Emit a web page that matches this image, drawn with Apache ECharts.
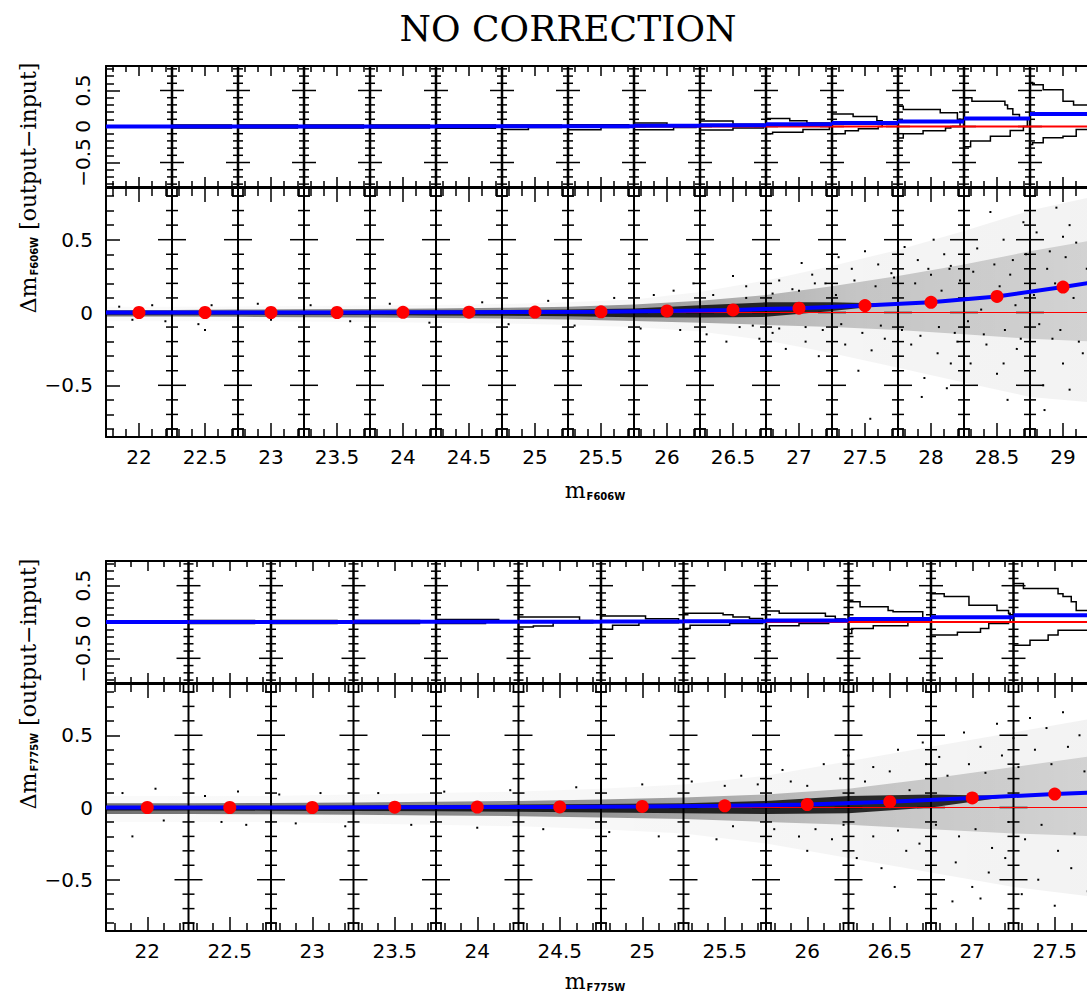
<!DOCTYPE html>
<html><head><meta charset="utf-8">
<script src="https://cdn.jsdelivr.net/npm/echarts@6/dist/echarts.min.js"></script>
<style>html,body{margin:0;padding:0;background:#fff}#c{width:1087px;height:994px}</style>
</head><body><div id="c"></div>
<script>
// ================= DATA =================
const titleText = 'NO CORRECTION';
// x tick labels
const xLabelsTop = [22,22.5,23,23.5,24,24.5,25,25.5,26,26.5,27,27.5,28,28.5,29];
const xLabelsBot = [22,22.5,23,23.5,24,24.5,25,25.5,26,26.5,27,27.5];
const yLabelsMain = [-0.5,0,0.5];
const yTickVals = [-0.8,-0.7,-0.6,-0.5,-0.4,-0.3,-0.2,-0.1,0,0.1,0.2,0.3,0.4,0.5,0.6,0.7,0.8];
const yMajor = [-0.5,0,0.5];
// bin boundaries (vertical lines)
const boundsTop = [22.25,22.75,23.25,23.75,24.25,24.75,25.25,25.75,26.25,26.75,27.25,27.75,28.25,28.75];
const boundsBot = [22.25,22.75,23.25,23.75,24.25,24.75,25.25,25.75,26.25,26.75,27.25];
// medians per bin (red dots)
const binTop = [22,22.5,23,23.5,24,24.5,25,25.5,26,26.5,27,27.5,28,28.5,29];
const medTop = [0.0,0.0,0.0,0.0,0.001,0.002,0.003,0.005,0.011,0.018,0.03,0.048,0.07,0.11,0.175];
const binBot = [22,22.5,23,23.5,24,24.5,25,25.5,26,26.5,27,27.5];
const medBot = [0.0,0.0,0.0,0.002,0.003,0.004,0.007,0.012,0.02,0.04,0.066,0.093];
// blue fit line in main panels
const fitXTop = [21.75,22,22.5,23,23.5,24,24.5,25,25.5,26,26.5,27,27.5,28,28.5,29,29.25];
const fitYTop = [0.0,0.0,0.0,0.0,0.0,0.001,0.002,0.003,0.005,0.011,0.018,0.03,0.048,0.07,0.11,0.175,0.21];
const fitXBot = [21.75,22,22.5,23,23.5,24,24.5,25,25.5,26,26.5,27,27.5,27.75];
const fitYBot = [0.0,0.0,0.0,0.0,0.002,0.003,0.004,0.007,0.012,0.02,0.04,0.066,0.093,0.105];
// histograms: per boundary, bins [dmLow, dmHigh, width in mag]
const histTop = [
 [[-0.02,0.02,0.45]],
 [[-0.02,0.02,0.45]],
 [[-0.02,0.02,0.45]],
 [[-0.02,0.02,0.45]],
 [[-0.025,0.02,0.45]],
 [[-0.04,-0.015,0.2],[-0.015,0.02,0.45]],
 [[-0.045,-0.015,0.25],[-0.015,0.025,0.46]],
 [[-0.045,-0.015,0.3],[-0.015,0.025,0.47],[0.025,0.05,0.25]],
 [[-0.05,-0.02,0.25],[-0.02,0.03,0.48],[0.03,0.075,0.25]],
 [[-0.1,-0.08,0.05],[-0.08,-0.04,0.28],[-0.04,0.05,0.48],[0.05,0.08,0.31],[0.08,0.11,0.18]],
 [[-0.1,-0.06,0.1],[-0.06,-0.03,0.2],[-0.03,0.0,0.35],[0.0,0.08,0.38],[0.08,0.14,0.34],[0.14,0.175,0.16]],
 [[-0.16,-0.1,0.04],[-0.1,-0.06,0.19],[-0.06,-0.02,0.36],[-0.02,0.0,0.4],[0.0,0.1,0.47],[0.1,0.19,0.45],[0.19,0.236,0.32],[0.236,0.28,0.04]],
 [[-0.28,-0.2,0.05],[-0.2,-0.135,0.2],[-0.135,-0.056,0.35],[-0.056,0.0,0.45],[0.0,0.1,0.48],[0.1,0.167,0.42],[0.167,0.245,0.37],[0.245,0.3,0.33],[0.3,0.35,0.31],[0.35,0.4,0.06]],
 [[-0.25,-0.226,0.02],[-0.226,-0.157,0.1],[-0.157,-0.135,0.25],[-0.135,-0.04,0.35],[-0.04,0.07,0.5],[0.07,0.14,0.45],[0.14,0.3,0.5],[0.3,0.35,0.33],[0.35,0.42,0.25],[0.42,0.51,0.25],[0.51,0.58,0.1],[0.58,0.61,0.02]]
];
const histBot = [
 [[-0.02,0.02,0.4]],
 [[-0.02,0.02,0.4]],
 [[-0.02,0.02,0.4]],
 [[-0.02,0.0,0.3],[0.0,0.033,0.38]],
 [[-0.07,-0.055,0.09],[-0.055,-0.01,0.21],[-0.01,0.02,0.45],[0.02,0.07,0.37]],
 [[-0.1,-0.045,0.07],[-0.045,-0.01,0.23],[-0.01,0.046,0.47],[0.046,0.083,0.27]],
 [[-0.09,-0.046,0.04],[-0.046,-0.02,0.28],[-0.02,0.047,0.48],[0.047,0.07,0.4],[0.07,0.1,0.3],[0.1,0.12,0.24]],
 [[-0.1,-0.05,0.02],[-0.05,-0.022,0.2],[-0.022,0.0,0.38],[0.0,0.04,0.48],[0.04,0.08,0.42],[0.08,0.12,0.36],[0.12,0.153,0.08]],
 [[-0.16,-0.09,0.02],[-0.09,-0.05,0.15],[-0.05,0.0,0.36],[0.0,0.06,0.5],[0.06,0.14,0.45],[0.14,0.16,0.27],[0.16,0.21,0.24],[0.21,0.28,0.07]],
 [[-0.18,-0.14,0.16],[-0.14,-0.09,0.3],[-0.09,-0.02,0.35],[-0.02,0.0,0.47],[0.0,0.12,0.48],[0.12,0.16,0.47],[0.16,0.23,0.4],[0.23,0.28,0.23],[0.28,0.35,0.23],[0.35,0.39,0.08]],
 [[-0.32,-0.25,0.1],[-0.25,-0.18,0.21],[-0.18,-0.115,0.27],[-0.115,-0.05,0.45],[-0.05,0.16,0.5],[0.16,0.28,0.38],[0.28,0.35,0.35],[0.35,0.39,0.3],[0.39,0.46,0.27],[0.46,0.53,0.06]]
];
// scatter cloud envelopes (core / mid / halo)
const cloudXTop = [21.75,22.25,22.75,23.25,23.75,24.25,24.75,25.25,25.75,26.25,26.75,27.25,27.75,28.25,28.75,29.25];
const coreLoTop = [-0.015,-0.015,-0.016,-0.017,-0.018,-0.02,-0.022,-0.026,-0.032,-0.035,-0.03,0.01,0.058,0.09,0.14,0.19];
const coreHiTop = [0.008,0.008,0.009,0.01,0.011,0.013,0.016,0.02,0.028,0.05,0.07,0.07,0.06,0.09,0.14,0.19];
const midLoTop  = [-0.028,-0.028,-0.03,-0.032,-0.034,-0.037,-0.042,-0.048,-0.058,-0.07,-0.085,-0.1,-0.12,-0.15,-0.18,-0.2];
const midHiTop  = [0.018,0.018,0.02,0.022,0.024,0.027,0.032,0.04,0.055,0.08,0.12,0.18,0.25,0.33,0.42,0.5];
const haloLoTop = [-0.06,-0.06,-0.06,-0.062,-0.065,-0.07,-0.075,-0.085,-0.1,-0.13,-0.19,-0.28,-0.38,-0.48,-0.58,-0.62];
const haloHiTop = [0.04,0.04,0.042,0.045,0.048,0.052,0.058,0.07,0.09,0.14,0.22,0.32,0.43,0.56,0.7,0.8];
const cloudXBot = [21.75,22.25,22.75,23.25,23.75,24.25,24.75,25.25,25.75,26.25,26.75,27.25,27.75];
const coreLoBot = [-0.02,-0.02,-0.022,-0.024,-0.026,-0.03,-0.035,-0.04,-0.045,-0.04,0.0,0.08,0.1];
const coreHiBot = [0.01,0.01,0.012,0.014,0.017,0.02,0.025,0.03,0.045,0.08,0.09,0.08,0.1];
const midLoBot  = [-0.045,-0.045,-0.047,-0.05,-0.055,-0.06,-0.07,-0.08,-0.1,-0.12,-0.15,-0.18,-0.2];
const midHiBot  = [0.03,0.03,0.032,0.035,0.04,0.045,0.055,0.07,0.09,0.13,0.2,0.28,0.36];
const haloLoBot = [-0.1,-0.1,-0.1,-0.11,-0.12,-0.13,-0.15,-0.18,-0.25,-0.35,-0.45,-0.55,-0.62];
const haloHiBot = [0.08,0.08,0.08,0.09,0.1,0.11,0.13,0.16,0.22,0.32,0.42,0.52,0.62];
// individual sparse points
const outTop = [[21.85,0.04],[21.95,-0.05],[22.1,0.05],[22.2,-0.06],[22.45,-0.08],[22.5,-0.12],[22.55,0.05],[22.9,0.06],[23.0,-0.05],[23.3,0.05],[23.6,-0.06],[23.9,0.06],[24.2,-0.07],[24.6,0.07],[24.8,-0.08],[25.1,0.08],[25.3,-0.09],[25.6,0.1],[25.8,-0.11],[25.9,0.12],
 [26.05,0.15],[26.1,-0.12],[26.2,0.2],[26.3,-0.15],[26.35,0.12],[26.45,-0.2],[26.5,0.25],[26.55,-0.1],[26.6,0.18],[26.7,-0.18],[26.75,0.3],[26.8,-0.14],[26.85,0.22],[26.9,-0.25],[26.95,0.16],
 [27.02,0.34],[27.05,-0.2],[27.1,0.26],[27.15,-0.3],[27.2,0.2],[27.25,-0.16],[27.3,0.38],[27.35,-0.22],[27.4,0.3],[27.45,-0.4],[27.5,0.42],[27.54,-0.73],[27.55,-0.26],[27.6,0.33],[27.65,-0.18],[27.7,0.27],[27.75,-0.34],[27.8,0.45],[27.85,-0.22],[27.9,0.36],[27.93,-0.58],[27.95,-0.45],[27.98,0.3],
 [28.02,0.5],[28.05,-0.28],[28.1,0.4],[28.12,-0.52],[28.15,0.32],[28.2,-0.2],[28.25,0.58],[28.3,-0.35],[28.35,0.44],[28.4,-0.15],[28.45,0.69],[28.5,-0.42],[28.55,0.5],[28.58,-0.6],[28.62,0.36],[28.65,-0.25],[28.7,0.62],[28.75,-0.3],[28.8,0.55],[28.85,-0.5],[28.86,-0.67],[28.9,0.42],[28.92,-0.18],[28.95,0.72],[29.0,-0.35],[29.05,0.6],[29.05,-0.53],[29.1,0.48],[29.15,-0.28],[29.2,0.8],[29.22,-0.45],
 [26.6,0.1],[26.65,-0.09],[26.8,0.13],[26.85,-0.11],[27.0,0.15],[27.05,-0.1],[27.12,0.2],[27.18,-0.12],[27.28,0.12],[27.32,-0.08],[27.42,0.22],[27.48,-0.14],[27.58,0.18],[27.62,-0.09],[27.72,0.24],[27.78,-0.12],[27.88,0.2],[27.92,-0.16],[28.0,0.26],[28.06,-0.1],[28.08,0.15],[28.14,0.3],[28.18,-0.14],[28.22,0.22],[28.28,-0.06],[28.32,0.28],[28.38,0.02],[28.42,-0.22],[28.48,0.33],[28.52,0.18],[28.56,-0.12],[28.6,0.26],[28.64,0.05],[28.68,-0.18],[28.72,0.4],[28.78,0.12],[28.82,-0.08],[28.88,0.3],[28.94,0.2],[28.98,-0.12],[29.02,0.38],[29.08,0.1],[29.12,-0.2],[29.18,0.3],[29.24,0.05],[28.15,-0.35],[28.55,-0.35],[29.0,0.52]];
const outBot = [[21.85,0.1],[21.91,-0.2],[22.05,0.13],[22.1,-0.09],[22.35,0.08],[22.45,-0.1],[22.55,0.11],[22.6,-0.12],[22.8,0.09],[22.9,-0.11],[23.05,0.1],[23.2,-0.13],[23.4,0.1],[23.6,-0.12],[23.8,0.11],[24.0,-0.14],[24.2,0.12],[24.4,-0.15],[24.6,0.14],[24.8,-0.17],[25.0,0.16],[25.1,-0.2],[25.3,0.18],[25.45,-0.22],[25.6,0.22],[25.75,-0.26],[25.85,0.26],
 [26.0,-0.3],[26.1,0.3],[26.15,-0.22],[26.25,0.36],[26.3,-0.35],[26.4,0.28],[26.45,-0.42],[26.53,-0.55],[26.55,0.4],[26.6,-0.3],[26.7,0.45],[26.75,-0.5],[26.8,0.35],[26.88,-0.65],[26.9,-0.38],[26.95,0.52],[27.0,-0.55],[27.05,0.42],[27.05,-0.63],[27.1,-0.45],[27.15,0.58],[27.2,-0.35],[27.25,0.48],[27.3,-0.6],[27.35,0.62],[27.4,-0.5],[27.45,0.55],[27.5,-0.68],[27.55,0.66],[27.6,-0.42],[27.65,0.5],[27.7,-0.58],[27.72,0.7],
 [26.0,0.15],[26.05,-0.15],[26.2,0.2],[26.22,-0.12],[26.35,0.18],[26.4,-0.2],[26.5,0.25],[26.55,-0.16],[26.62,0.12],[26.68,-0.25],[26.72,0.3],[26.78,-0.12],[26.85,0.22],[26.92,-0.2],[26.98,0.3],[27.02,-0.15],[27.08,0.24],[27.12,-0.28],[27.18,0.36],[27.22,-0.1],[27.28,0.28],[27.32,-0.22],[27.38,0.4],[27.42,-0.12],[27.48,0.3],[27.52,-0.3],[27.58,0.42],[27.62,-0.18],[27.68,0.25],[27.74,-0.35],[25.5,0.15],[25.55,-0.13],[25.7,0.16],[25.8,-0.15],[25.9,0.18],[25.95,-0.2]];

// ================= LAYOUT / STYLE =================
const FONT = 'DejaVu Sans';
const SERIF = 'DejaVu Serif';
const HIST_Y = 0.84, MAIN_Y = 0.855;
const panels = [
 {xMin:21.75, xMax:29.25, labels:xLabelsTop, bounds:boundsTop, hist:histTop, bins:binTop, med:medTop, fitX:fitXTop, fitY:fitYTop,
  cx:cloudXTop, core:[coreLoTop,coreHiTop], mid:[midLoTop,midHiTop], halo:[haloLoTop,haloHiTop], out:outTop,
  histTop:66, histH:121, mainTop:188, mainH:249},
 {xMin:21.75, xMax:27.75, labels:xLabelsBot, bounds:boundsBot, hist:histBot, bins:binBot, med:medBot, fitX:fitXBot, fitY:fitYBot,
  cx:cloudXBot, core:[coreLoBot,coreHiBot], mid:[midLoBot,midHiBot], halo:[haloLoBot,haloHiBot], out:outBot,
  histTop:561, histH:122, mainTop:684, mainH:247}
];
function fmt(v){ return v<0 ? '\u2212'+Math.abs(v) : String(v); }
function minorTicks(min,max,majors){
  const out=[]; for(let k=Math.ceil(min*10+1e-6); k<=Math.floor(max*10-1e-6); k++){ const v=k/10; if(!majors.some(m=>Math.abs(m-v)<1e-6)) out.push(v);} return out;
}
const yMinor = yTickVals.filter(v=>yMajor.indexOf(v)<0);

const grids=[], xAxes=[], yAxes=[], series=[];
function xAx(g,p,pos,ticks,len,labels,lineShow){
  xAxes.push({type:'value', gridIndex:g, min:p.xMin, max:p.xMax, position:pos,
    axisLine:{show:lineShow, onZero:false, lineStyle:{color:'#000', width:2}},
    axisTick:{show:true, inside:true, length:len, customValues:ticks, lineStyle:{color:'#000', width:1.5}},
    axisLabel:{show:!!labels, customValues:labels||ticks, margin:10, color:'#000', fontFamily:FONT, fontSize:20, formatter:fmt},
    splitLine:{show:false}});
  return xAxes.length-1;
}
function yAx(g,min,max,ticks,len,labels,rot,lineShow){
  yAxes.push({type:'value', gridIndex:g, min:min, max:max, position:'left',
    axisLine:{show:lineShow, onZero:false, lineStyle:{color:'#000', width:2}},
    axisTick:{show:true, inside:true, length:len, customValues:ticks, lineStyle:{color:'#000', width:1.5}},
    axisLabel:{show:!!labels, customValues:labels||ticks, margin:13, rotate:rot||0, color:'#000', fontFamily:FONT, fontSize:20, formatter:fmt},
    splitLine:{show:false}});
  return yAxes.length-1;
}
function boundaryItem(yMin,yMax,longLen,shortLen,lw){
  return function(params,api){
    const x=api.value(0);
    const p0=api.coord([x,yMax]), p1=api.coord([x,yMin]);
    const ch=[{type:'line', shape:{x1:p0[0],y1:p0[1],x2:p1[0],y2:p1[1]}, style:{stroke:'#000', lineWidth:lw}}];
    yTickVals.forEach(t=>{
      const py=api.coord([x,t])[1];
      const L=yMajor.indexOf(t)>=0?longLen:shortLen;
      ch.push({type:'line', shape:{x1:p0[0]-L,y1:py,x2:p0[0]+L,y2:py}, style:{stroke:'#000', lineWidth:1.5}});
    });
    return {type:'group', children:ch};
  };
}
function histItem(hists){
  return function(params,api){
    const b=api.value(0), bins=hists[api.value(1)];
    const pts=[api.coord([b,bins[0][0]])];
    bins.forEach(function(r){ pts.push(api.coord([b+r[2],r[0]])); pts.push(api.coord([b+r[2],r[1]])); });
    pts.push(api.coord([b,bins[bins.length-1][1]]));
    return {type:'polyline', shape:{points:pts}, style:{stroke:'#000', lineWidth:1.5, fill:'none'}};
  };
}
function bandItem(xs,lo,hi,fill){
  return function(params,api){
    if(params.dataIndex!==0) return null;
    const pts=[];
    xs.forEach((x,i)=>pts.push(api.coord([x,hi[i]])));
    for(let i=xs.length-1;i>=0;i--) pts.push(api.coord([xs[i],lo[i]]));
    return {type:'polygon', shape:{points:pts}, style:{fill:fill, stroke:'none'}};
  };
}
function stepItem(half){
  return function(params,api){
    const c=api.value(0), m=api.value(1);
    const a=api.coord([c-half,m]), b=api.coord([c+half,m]);
    return {type:'line', shape:{x1:a[0],y1:a[1],x2:b[0],y2:b[1]}, style:{stroke:'#0000ff', lineWidth:4}};
  };
}

panels.forEach(function(p,pi){
  const gH=grids.length; grids.push({left:106, top:p.histTop, width:990, height:p.histH, outerBoundsMode:'none', containLabel:false});
  const gM=grids.length; grids.push({left:106, top:p.mainTop, width:990, height:p.mainH, outerBoundsMode:'none', containLabel:false});
  const xMinorT = minorTicks(p.xMin,p.xMax,p.labels);
  // hist panel axes
  const hx = xAx(gH,p,'bottom',p.labels,10,null,true);
  xAx(gH,p,'bottom',xMinorT,6,null,false);
  xAx(gH,p,'top',p.labels,10,null,true);
  xAx(gH,p,'top',xMinorT,6,null,false);
  const hy = yAx(gH,-HIST_Y,HIST_Y,yMajor,14,yLabelsMain,90,true);
  yAx(gH,-HIST_Y,HIST_Y,yMinor,8,null,0,false);
  // main panel axes
  const mx = xAx(gM,p,'bottom',p.labels,14,p.labels,true);
  xAx(gM,p,'bottom',xMinorT,8,null,false);
  xAx(gM,p,'top',p.labels,14,null,true);
  xAx(gM,p,'top',xMinorT,8,null,false);
  const my = yAx(gM,-MAIN_Y,MAIN_Y,yMajor,14,yLabelsMain,0,true);
  yAx(gM,-MAIN_Y,MAIN_Y,yMinor,8,null,0,false);

  const H={xAxisIndex:hx, yAxisIndex:hy}, M={xAxisIndex:mx, yAxisIndex:my};
  const bandData = p.cx.map((x,i)=>[x,0]);
  const midFill = new echarts.graphic.LinearGradient(0,0,1,0,[{offset:0,color:'rgba(0,0,0,0.55)'},{offset:0.5,color:'rgba(0,0,0,0.4)'},{offset:0.75,color:'rgba(0,0,0,0.2)'},{offset:1,color:'rgba(0,0,0,0.13)'}]);
  const haloFill = new echarts.graphic.LinearGradient(0,0,1,0,[{offset:0,color:'rgba(0,0,0,0.02)'},{offset:0.6,color:'rgba(0,0,0,0.035)'},{offset:1,color:'rgba(0,0,0,0.05)'}]);
  series.push(Object.assign({type:'custom', z:1, renderItem:bandItem(p.cx,p.halo[0],p.halo[1],haloFill), data:bandData, silent:true}, M));
  series.push(Object.assign({type:'custom', z:1, renderItem:bandItem(p.cx,p.mid[0],p.mid[1],midFill), data:bandData, silent:true}, M));
  series.push(Object.assign({type:'custom', z:1, renderItem:bandItem(p.cx,p.core[0],p.core[1],'rgba(0,0,0,0.8)'), data:bandData, silent:true}, M));
  series.push(Object.assign({type:'scatter', z:2, symbol:'rect', symbolSize:2, itemStyle:{color:'#000', opacity:1}, data:p.out, silent:true}, M));
  // boundary lines
  series.push(Object.assign({type:'custom', z:3, renderItem:boundaryItem(-MAIN_Y,MAIN_Y,14,6,2), data:p.bounds.map(b=>[b]), silent:true}, M));
  series.push(Object.assign({type:'custom', z:3, renderItem:boundaryItem(-HIST_Y,HIST_Y,12,5,2.5), data:p.bounds.map(b=>[b]), silent:true}, H));
  // squares at the boundary ends
  series.push(Object.assign({type:'scatter', z:3, symbol:'rect', symbolSize:[10,8], symbolOffset:[0,4], itemStyle:{color:'rgba(0,0,0,0)', borderColor:'#000', borderWidth:1.5, opacity:1}, data:p.bounds.map(b=>[b,MAIN_Y]), silent:true}, M));
  series.push(Object.assign({type:'scatter', z:3, symbol:'rect', symbolSize:[10,8], symbolOffset:[0,-4], itemStyle:{color:'rgba(0,0,0,0)', borderColor:'#000', borderWidth:1.5, opacity:1}, data:p.bounds.map(b=>[b,-MAIN_Y]), silent:true}, M));
  // histograms
  series.push(Object.assign({type:'custom', z:4, renderItem:histItem(p.hist), data:p.bounds.map((b,i)=>[b,i]), silent:true}, H));
  // red zero lines
  series.push(Object.assign({type:'line', z:5, showSymbol:false, lineStyle:{color:'#ff0000', width:1}, data:[[p.xMin,0],[p.xMax,0]], silent:true}, M));
  series.push(Object.assign({type:'line', z:5, showSymbol:false, lineStyle:{color:'#ff0000', width:2}, data:[[p.xMin,0],[p.xMax,0]], silent:true}, H));
  // blue fit
  series.push(Object.assign({type:'line', z:6, showSymbol:false, lineStyle:{color:'#0000ff', width:4}, data:p.fitX.map((x,i)=>[x,p.fitY[i]]), silent:true}, M));
  series.push(Object.assign({type:'custom', z:6, renderItem:stepItem(0.25), data:p.bins.map((x,i)=>[x,p.med[i]]), silent:true}, H));
  // red dots
  series.push(Object.assign({type:'scatter', z:7, symbol:'circle', symbolSize:13, itemStyle:{color:'#ff0000', opacity:1}, data:p.bins.map((x,i)=>[x,p.med[i]]), silent:true}, M));
});

const subRich = {a:{fontFamily:SERIF, fontSize:22, color:'#000', verticalAlign:'bottom', lineHeight:28},
                 s:{fontFamily:FONT, fontSize:10, fontWeight:'bold', color:'#000', verticalAlign:'bottom', lineHeight:28, padding:[0,0,0,1]}};
const graphics = [
 {type:'text', x:568, y:28, style:{text:titleText, font:'36px "DejaVu Serif"', fill:'#000', align:'center', verticalAlign:'middle', textAlign:'center', textVerticalAlign:'middle'}},
 {type:'text', x:25, y:188, rotation:Math.PI/2, style:{text:'{a|\u0394m}{s|F606W}{a| [output\u2212input]}', rich:subRich, align:'center', verticalAlign:'middle', textAlign:'center', textVerticalAlign:'middle'}},
 {type:'text', x:25, y:684, rotation:Math.PI/2, style:{text:'{a|\u0394m}{s|F775W}{a| [output\u2212input]}', rich:subRich, align:'center', verticalAlign:'middle', textAlign:'center', textVerticalAlign:'middle'}},
 {type:'text', x:595, y:487, style:{text:'{a|m}{s|F606W}', rich:subRich, align:'center', verticalAlign:'middle', textAlign:'center', textVerticalAlign:'middle'}},
 {type:'text', x:595, y:978, style:{text:'{a|m}{s|F775W}', rich:subRich, align:'center', verticalAlign:'middle', textAlign:'center', textVerticalAlign:'middle'}}
];

const chart = echarts.init(document.getElementById('c'), null, {renderer:'svg', width:1087, height:994});
chart.setOption({animation:false, backgroundColor:'#fff', grid:grids, xAxis:xAxes, yAxis:yAxes, series:series, graphic:graphics});
</script></body></html>
